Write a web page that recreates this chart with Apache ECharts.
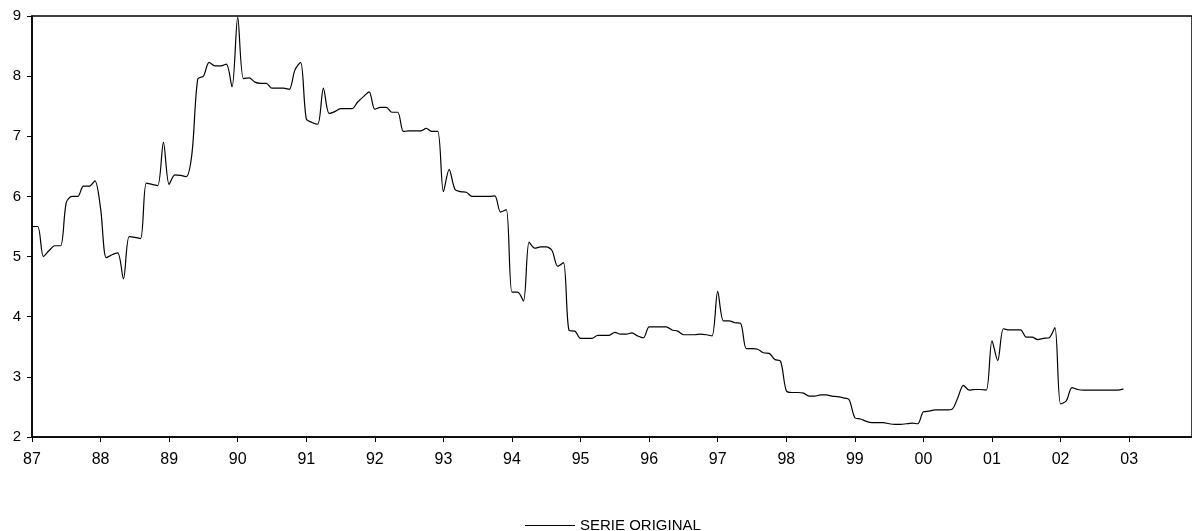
<!DOCTYPE html>
<html>
<head>
<meta charset="utf-8">
<script src="https://cdn.jsdelivr.net/npm/echarts@6/dist/echarts.min.js"></script>
<style>
html,body{margin:0;padding:0;background:#fff;}
#chart{width:1192px;height:531px;}
</style>
</head>
<body>
<div id="chart"></div>
<script>
// Year tick labels (one category per month, Jan 1987 .. Dec 2003)
var years = ['87','88','89','90','91','92','93','94','95','96','97','98','99','00','01','02','03'];
var seriesName = 'SERIE ORIGINAL';
// Monthly values, Jan 1987 .. Dec 2002
var serieOriginal = [
  5.50,5.50,5.00,5.10,5.18,5.18,5.90,6.00,6.00,6.17,6.17,6.26,
  5.80,4.98,5.03,5.06,4.63,5.33,5.32,5.30,6.22,6.20,6.18,6.90,
  6.20,6.36,6.35,6.33,6.72,7.95,8.00,8.23,8.17,8.17,8.20,7.82,
  8.98,7.96,7.97,7.90,7.88,7.88,7.80,7.80,7.80,7.78,8.10,8.23,
  7.29,7.23,7.20,7.80,7.38,7.41,7.46,7.46,7.46,7.57,7.66,7.74,
  7.45,7.48,7.48,7.40,7.40,7.08,7.09,7.09,7.09,7.13,7.08,7.08,
  6.08,6.45,6.12,6.08,6.07,6.00,6.00,6.00,6.00,6.01,5.74,5.78,
  4.41,4.41,4.26,5.24,5.14,5.16,5.16,5.10,4.84,4.90,3.77,3.76,
  3.64,3.64,3.64,3.69,3.69,3.69,3.74,3.71,3.71,3.73,3.68,3.65,
  3.83,3.83,3.83,3.83,3.78,3.76,3.70,3.70,3.70,3.71,3.70,3.68,
  4.42,3.93,3.93,3.90,3.89,3.47,3.47,3.46,3.40,3.39,3.29,3.26,
  2.77,2.74,2.74,2.73,2.68,2.68,2.70,2.70,2.68,2.67,2.65,2.62,
  2.32,2.30,2.26,2.24,2.24,2.24,2.22,2.21,2.21,2.22,2.23,2.22,
  2.42,2.43,2.45,2.45,2.45,2.46,2.65,2.86,2.78,2.79,2.79,2.78,
  3.60,3.27,3.80,3.78,3.78,3.78,3.66,3.66,3.62,3.64,3.65,3.82,
  2.55,2.60,2.82,2.79,2.78,2.78,2.78,2.78,2.78,2.78,2.78,2.80
];

var categories = [];
years.forEach(function (y) {
  for (var mo = 1; mo <= 12; mo++) categories.push(y + '-' + (mo < 10 ? '0' : '') + mo);
});
var isYearStart = function (i) { return i % 12 === 0; };

var chart = echarts.init(document.getElementById('chart'), null, {renderer: 'canvas'});
chart.setOption({
  animation: false,
  backgroundColor: '#ffffff',
  grid: {left: 32, right: 0, top: 16, bottom: 94, show: true, borderColor: '#000', borderWidth: 1.5, backgroundColor: 'transparent'},
  legend: {
    data: [seriesName],
    left: 520, top: 513,
    icon: 'rect', itemWidth: 50, itemHeight: 1, itemGap: 4,
    textStyle: {fontFamily: 'Liberation Sans, Arial, sans-serif', fontSize: 15, color: '#000'}
  },
  xAxis: {
    type: 'category',
    data: categories,
    boundaryGap: false,
    axisLine: {lineStyle: {color: '#000', width: 1.5}},
    axisTick: {interval: isYearStart, length: 5, lineStyle: {color: '#000'}},
    axisLabel: {
      interval: isYearStart,
      formatter: function (v) { return v.split('-')[0]; },
      fontFamily: 'Liberation Sans, Arial, sans-serif', fontSize: 16, color: '#000', margin: 15
    },
    splitLine: {show: false}
  },
  yAxis: {
    type: 'value', min: 2, max: 9, interval: 1,
    axisLine: {show: true, lineStyle: {color: '#000', width: 1.5}},
    axisTick: {show: true, length: 5, lineStyle: {color: '#000'}},
    axisLabel: {fontFamily: 'Liberation Sans, Arial, sans-serif', fontSize: 15, color: '#000', margin: 11},
    splitLine: {show: false}
  },
  series: [{
    name: seriesName,
    type: 'line',
    data: serieOriginal,
    smooth: 0.3,
    showSymbol: false,
    symbol: 'none',
    lineStyle: {color: '#000', width: 1.2},
    itemStyle: {color: '#000'}
  }]
});
</script>
</body>
</html>
